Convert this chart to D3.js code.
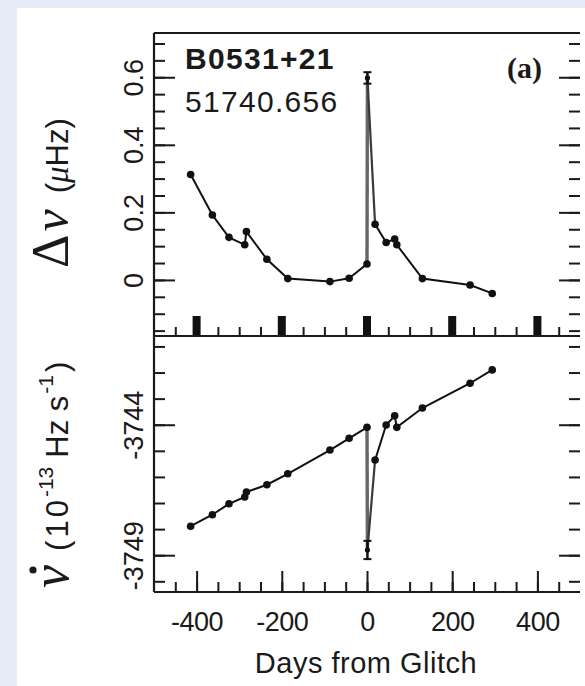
<!DOCTYPE html>
<html>
<head>
<meta charset="utf-8">
<script src="https://cdn.jsdelivr.net/npm/d3@7"></script>
<style>
  html, body { margin: 0; padding: 0; background: #e6ecf7; }
  svg { display: block; }
  .tick line { stroke: #1a1a1a; stroke-width: 2; }
</style>
</head>
<body>
<div id="chart"></div>
<script>
// days from glitch for each timing solution (same epochs in both panels)
const days = [-414, -363, -324, -287, -283, -235, -186, -87, -42, 0, 1, 19, 45, 65, 70, 130, 242, 294];
// frequency residual, micro Hz
const dNu = [0.312, 0.192, 0.126, 0.104, 0.143, 0.061, 0.004, -0.005, 0.005, 0.047, 0.598, 0.165, 0.111, 0.121, 0.104, 0.004, -0.015, -0.040];
const dNuErr = [0, 0, 0, 0, 0, 0, 0, 0, 0, 0, 0.017, 0, 0, 0, 0, 0, 0, 0];
// frequency derivative, 1e-13 Hz/s
const nuDot = [-3747.89, -3747.45, -3747.03, -3746.77, -3746.58, -3746.30, -3745.88, -3744.97, -3744.52, -3744.10,
               -3748.80, -3745.35, -3744.01, -3743.66, -3744.10, -3743.36, -3742.41, -3741.90];
const nuDotErr = [0, 0, 0, 0, 0, 0, 0, 0, 0, 0, 0.35, 0, 0, 0, 0, 0, 0, 0];
const glitchIdx = 10; // the extrapolated value at the glitch

const xMajor = [-400, -200, 0, 200, 400];
const xMinor = d3.range(-450, 451, 50);
const topMajor = [0, 0.2, 0.4, 0.6];
const topMinor = d3.range(-0.15, 0.701, 0.05);
const botMajor = [-3744, -3749];
const botMinor = d3.range(-3750, -3740, 1);

const width = 585, height = 686;
const font = '"Liberation Sans", Arial, Helvetica, sans-serif';
const serif = '"Liberation Serif", "Times New Roman", serif';

const svg = d3.select("#chart").append("svg")
    .attr("width", width)
    .attr("height", height);

// white page over the bluish slide background
svg.append("rect")
    .attr("x", 17).attr("y", 8)
    .attr("width", width - 17).attr("height", height - 8)
    .attr("fill", "#ffffff");

const x = d3.scaleLinear().domain([-500, 500]).range([154, 580]);
const yTop = d3.scaleLinear().domain([-0.166, 0.731]).range([336, 33]);
const yBot = d3.scaleLinear().domain([-3750.41, -3740.6]).range([592, 336]);

const [x0, x1] = x.range();
const fmt = d => String(d); // plain hyphen minus like the original

function yTicks(scale, majors, minors, side, labelled) {
    const xpos = side === "left" ? x0 : x1;
    const mk = side === "left" ? d3.axisLeft : d3.axisRight;
    const gMin = svg.append("g").attr("transform", `translate(${xpos},0)`)
        .call(mk(scale).tickValues(minors).tickSizeInner(-11).tickSizeOuter(0).tickFormat(""));
    gMin.select(".domain").remove();
    const gMaj = svg.append("g").attr("transform", `translate(${xpos},0)`)
        .call(mk(scale).tickValues(majors).tickSizeInner(-21).tickSizeOuter(0)
            .tickFormat(labelled ? fmt : ""));
    gMaj.select(".domain").remove();
    if (labelled) {
        gMaj.selectAll("text")
            .attr("x", null).attr("dy", null)
            .attr("transform", "translate(-11,0) rotate(-90)")
            .attr("text-anchor", "middle")
            .attr("font-family", font)
            .attr("font-size", 27)
            .attr("fill", "#1a1a1a");
    }
}

yTicks(yTop, topMajor, topMinor, "left", true);
yTicks(yTop, topMajor, topMinor, "right", false);
yTicks(yBot, botMajor, botMinor, "left", true);
yTicks(yBot, botMajor, botMinor, "right", false);

// bottom x axis
const gxMin = svg.append("g").attr("transform", `translate(0,${yBot.range()[0]})`)
    .call(d3.axisBottom(x).tickValues(xMinor).tickSizeInner(-10).tickSizeOuter(0).tickFormat(""));
gxMin.select(".domain").remove();
const gxMaj = svg.append("g").attr("transform", `translate(0,${yBot.range()[0]})`)
    .call(d3.axisBottom(x).tickValues(xMajor).tickSizeInner(-21).tickSizeOuter(0).tickPadding(20).tickFormat(fmt));
gxMaj.select(".domain").remove();
gxMaj.selectAll("text")
    .attr("font-family", font)
    .attr("font-size", 27)
    .attr("letter-spacing", -0.5)
    .attr("fill", "#1a1a1a");

// top panel lower edge: small ticks and block marks at the majors
const gtMin = svg.append("g").attr("transform", `translate(0,${yTop.range()[0]})`)
    .call(d3.axisBottom(x).tickValues(xMinor).tickSizeInner(-9).tickSizeOuter(0).tickFormat(""));
gtMin.select(".domain").remove();
svg.append("g").selectAll("rect")
    .data(xMajor)
    .join("rect")
    .attr("x", d => x(d) - 4)
    .attr("y", yTop.range()[0] - 20)
    .attr("width", 8)
    .attr("height", 20)
    .attr("fill", "#111");

// frame
const frame = [
    [x0, yTop.range()[1], x1, yTop.range()[1]],
    [x0, yTop.range()[0], x1, yTop.range()[0]],
    [x0, yBot.range()[0], x1, yBot.range()[0]],
    [x0, yTop.range()[1], x0, yBot.range()[0]]
];
svg.append("g").selectAll("line")
    .data(frame)
    .join("line")
    .attr("x1", d => d[0]).attr("y1", d => d[1])
    .attr("x2", d => d[2]).attr("y2", d => d[3])
    .attr("stroke", "#1a1a1a")
    .attr("stroke-width", 2.2);

function drawSeries(vals, errs, y) {
    const pts = days.map((d, i) => ({ x: d, y: vals[i], e: errs[i] }));
    const line = d3.line().x(d => x(d.x)).y(d => y(d.y));
    const g = svg.append("g");
    // vertical jump at the glitch, drawn in grey
    g.append("path")
        .attr("d", line(pts.slice(glitchIdx - 1, glitchIdx + 1)))
        .attr("fill", "none").attr("stroke", "#666").attr("stroke-width", 3.4);
    g.append("path")
        .attr("d", line(pts.slice(glitchIdx, glitchIdx + 2)))
        .attr("fill", "none").attr("stroke", "#3a3a3a").attr("stroke-width", 2.2);
    g.append("path")
        .attr("d", line(pts.slice(0, glitchIdx)))
        .attr("fill", "none").attr("stroke", "#111").attr("stroke-width", 2);
    g.append("path")
        .attr("d", line(pts.slice(glitchIdx + 1)))
        .attr("fill", "none").attr("stroke", "#111").attr("stroke-width", 2);

    const eb = pts.filter(d => d.e > 0);
    g.selectAll(".eb").data(eb).join("line")
        .attr("x1", d => x(d.x)).attr("x2", d => x(d.x))
        .attr("y1", d => y(d.y - d.e)).attr("y2", d => y(d.y + d.e))
        .attr("stroke", "#111").attr("stroke-width", 2.5);
    g.selectAll(".capLo").data(eb).join("line")
        .attr("x1", d => x(d.x) - 4).attr("x2", d => x(d.x) + 4)
        .attr("y1", d => y(d.y - d.e)).attr("y2", d => y(d.y - d.e))
        .attr("stroke", "#111").attr("stroke-width", 2);
    g.selectAll(".capHi").data(eb).join("line")
        .attr("x1", d => x(d.x) - 4).attr("x2", d => x(d.x) + 4)
        .attr("y1", d => y(d.y + d.e)).attr("y2", d => y(d.y + d.e))
        .attr("stroke", "#111").attr("stroke-width", 2);

    g.selectAll("circle").data(pts).join("circle")
        .attr("cx", d => x(d.x))
        .attr("cy", d => y(d.y))
        .attr("r", d => d.e > 0 ? 2.6 : 3.8)
        .attr("fill", "#111");
}

drawSeries(dNu, dNuErr, yTop);
drawSeries(nuDot, nuDotErr, yBot);

// annotations
svg.append("text")
    .attr("x", 185).attr("y", 69)
    .attr("font-family", font).attr("font-weight", "bold")
    .attr("font-size", 30).attr("letter-spacing", 1.3)
    .attr("fill", "#1a1a1a")
    .text("B0531+21");
svg.append("text")
    .attr("x", 185).attr("y", 112)
    .attr("font-family", font)
    .attr("font-size", 30).attr("letter-spacing", 1.3)
    .attr("fill", "#1a1a1a")
    .text("51740.656");
svg.append("text")
    .attr("x", 542).attr("y", 78)
    .attr("text-anchor", "end")
    .attr("font-family", serif).attr("font-weight", "bold")
    .attr("font-size", 30).attr("fill", "#1a1a1a")
    .text("(a)");

// x title
svg.append("text")
    .attr("x", 366).attr("y", 673)
    .attr("text-anchor", "middle")
    .attr("font-family", font)
    .attr("font-size", 29).attr("letter-spacing", 0.5)
    .attr("fill", "#1a1a1a")
    .text("Days from Glitch");

// y titles (rotated, starting from the bottom end)
const t1 = svg.append("text")
    .attr("transform", "translate(68,268) rotate(-90)")
    .attr("text-anchor", "start")
    .attr("fill", "#1a1a1a");
t1.append("tspan").attr("font-family", serif).attr("font-size", 52).text("Δ");
t1.append("tspan").attr("font-family", serif).attr("font-style", "italic").attr("font-size", 50).attr("dx", 3).text("ν");
t1.append("tspan").attr("font-family", font).attr("font-size", 31).attr("dx", 16).text("(");
t1.append("tspan").attr("font-family", serif).attr("font-style", "italic").attr("font-size", 33).text("μ");
t1.append("tspan").attr("font-family", font).attr("font-size", 31).text("Hz)");

const t2 = svg.append("text")
    .attr("transform", "translate(68,588) rotate(-90)")
    .attr("text-anchor", "start")
    .attr("fill", "#1a1a1a");
t2.append("tspan").attr("font-family", serif).attr("font-style", "italic").attr("font-size", 52).text("ν");
t2.append("tspan").attr("font-family", font).attr("font-size", 31).attr("dx", 14).attr("letter-spacing", 3).text("(10");
t2.append("tspan").attr("font-family", font).attr("font-size", 21).attr("dy", -15).attr("dx", 0).attr("letter-spacing", 0).text("-13");
t2.append("tspan").attr("font-family", font).attr("font-size", 31).attr("dy", 15).attr("dx", 9).text("Hz s");
t2.append("tspan").attr("font-family", font).attr("font-size", 21).attr("dy", -15).attr("dx", 2).text("-1");
t2.append("tspan").attr("font-family", font).attr("font-size", 31).attr("dy", 15).attr("dx", 3).text(")");
// the time-derivative dot over the nu
svg.append("circle")
    .attr("cx", 33).attr("cy", 570)
    .attr("r", 3.6)
    .attr("fill", "#1a1a1a");
</script>
</body>
</html>
